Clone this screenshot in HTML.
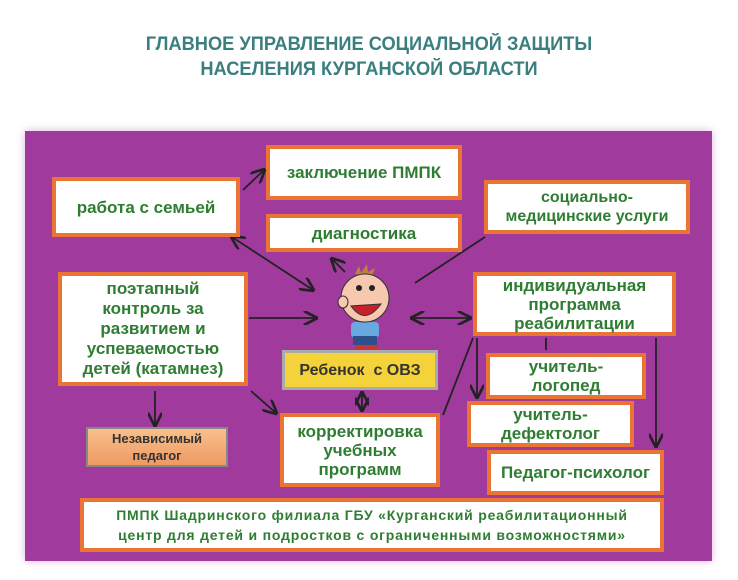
<!DOCTYPE html>
<html><head><meta charset="utf-8"><style>
body{margin:0;width:738px;height:580px;background:#fff;position:relative;overflow:hidden;font-family:"Liberation Sans",sans-serif}
.t{position:absolute;left:0;width:738px;text-align:center;color:#3a7e7e;font-weight:bold;font-size:19px;transform:scaleX(.96)}
#p{position:absolute;left:25px;top:131px;width:687px;height:430px;background:#a03a9c;box-shadow:0 0 8px #d9b6d9}
.b{position:absolute;box-sizing:border-box;background:#fff;border:4px solid #ea7434;color:#2e7d32;font-weight:bold;font-size:17px;display:flex;align-items:center;justify-content:center;text-align:center;line-height:19px}
svg{position:absolute;left:0;top:0}
</style></head><body>
<div class="t" style="top:34px">ГЛАВНОЕ УПРАВЛЕНИЕ СОЦИАЛЬНОЙ ЗАЩИТЫ</div>
<div class="t" style="top:59px">НАСЕЛЕНИЯ КУРГАНСКОЙ ОБЛАСТИ</div>
<div id="p"></div>
<svg width="738" height="580"><defs><marker id="a" markerWidth="8" markerHeight="8" refX="7" refY="4" orient="auto-start-reverse"><path d="M0,0L8,4L0,8" fill="none" stroke="#222" stroke-width="1.5"/></marker></defs>
<g stroke="#222" stroke-width="1.8" fill="none">
<line x1="243" y1="190" x2="264" y2="170" marker-end="url(#a)"/>
<line x1="232" y1="237" x2="313" y2="290" marker-start="url(#a)" marker-end="url(#a)"/>
<line x1="345" y1="272" x2="332" y2="259" marker-end="url(#a)"/>
<line x1="415" y1="283" x2="485" y2="237" />
<line x1="249" y1="318" x2="316" y2="318" marker-end="url(#a)"/>
<line x1="412" y1="318" x2="470" y2="318" marker-start="url(#a)" marker-end="url(#a)"/>
<line x1="251" y1="391" x2="276" y2="413" marker-end="url(#a)"/>
<line x1="155" y1="391" x2="155" y2="425" marker-end="url(#a)"/>
<line x1="362" y1="393" x2="362" y2="410" marker-start="url(#a)" marker-end="url(#a)"/>
<line x1="473" y1="338" x2="443" y2="415"/>
<line x1="477" y1="338" x2="477" y2="397" marker-end="url(#a)"/>
<line x1="546" y1="338" x2="546" y2="350" />
<line x1="656" y1="338" x2="656" y2="446" marker-end="url(#a)"/>
</g>
<g transform="translate(365,310)">
<path d="M-10,-36 l4,-8 l2,7 l6,-9 l1,8 l7,-4 l-3,8z" fill="#c0823a"/>
<rect x="-14" y="12" width="28" height="16" rx="4" fill="#6aa8e0"/>
<rect x="-12" y="26" width="24" height="9" fill="#2e4f8a"/>
<circle cx="0" cy="-12" r="24" fill="#f6c8b0" stroke="#333"/>
<ellipse cx="-22" cy="-8" rx="5" ry="6" fill="#f6c8b0" stroke="#333"/>
<circle cx="-6" cy="-22" r="3" fill="#222"/><circle cx="7" cy="-22" r="3" fill="#222"/>
<path d="M-14,-4 Q0,16 16,-6 Z" fill="#c8202a" stroke="#333"/>
<ellipse cx="-4" cy="38" rx="6" ry="3" fill="#c33"/><ellipse cx="8" cy="38" rx="6" ry="3" fill="#c33"/>
</g>
</svg>
<div class="b" style="left:266px;top:145px;width:196px;height:55px">заключение ПМПК</div>
<div class="b" style="left:52px;top:177px;width:188px;height:60px">работа с семьей</div>
<div class="b" style="left:266px;top:214px;width:196px;height:38px">диагностика</div>
<div class="b" style="left:484px;top:180px;width:206px;height:54px;font-size:16px">социально-<br>медицинские услуги</div>
<div class="b" style="left:58px;top:272px;width:190px;height:114px;line-height:20px">поэтапный<br>контроль за<br>развитием и<br>успеваемостью<br>детей (катамнез)</div>
<div class="b" style="left:473px;top:272px;width:203px;height:64px">индивидуальная<br>программа<br>реабилитации</div>
<div class="b" style="left:282px;top:350px;width:156px;height:40px;background:#f4d23a;border:3px solid #aaa;color:#333;font-size:16px">Ребенок&nbsp; с ОВЗ</div>
<div class="b" style="left:86px;top:427px;width:142px;height:40px;background:linear-gradient(#f9c08c,#ee9a62);border:2px solid #888;color:#333;font-size:13px;line-height:17px">Независимый<br>педагог</div>
<div class="b" style="left:280px;top:413px;width:160px;height:74px">корректировка<br>учебных<br>программ</div>
<div class="b" style="left:486px;top:353px;width:160px;height:46px">учитель-<br>логопед</div>
<div class="b" style="left:467px;top:401px;width:167px;height:46px">учитель-<br>дефектолог</div>
<div class="b" style="left:487px;top:450px;width:177px;height:45px">Педагог-психолог</div>
<div class="b" style="left:80px;top:498px;width:584px;height:54px;font-size:14px;line-height:20px;letter-spacing:.8px">ПМПК Шадринского филиала ГБУ «Курганский реабилитационный<br>центр для детей и подростков с ограниченными возможностями»</div>
</body></html>
